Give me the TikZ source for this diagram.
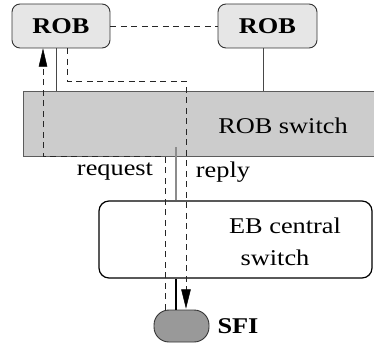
\documentclass[tikz,border=0pt]{standalone}
\usepackage{fontspec}
\setmainfont[FakeStretch=1.17]{Liberation Serif}
\definecolor{robfill}{HTML}{E6E6E6}
\definecolor{swfill}{HTML}{CCCCCC}
\definecolor{sfifill}{HTML}{999999}
\definecolor{edge}{HTML}{333333}
\tikzset{
  txt/.style={font=\fontsize{22.5}{26}\selectfont, inner sep=0pt},
  robbox/.style={draw=edge, line width=0.9pt, fill=robfill, rounded corners=8pt,
    minimum width=98pt, minimum height=44pt, inner sep=0pt,
    font=\fontsize{22.5}{26}\selectfont\bfseries},
  swbox/.style={draw=edge!80, line width=0.9pt, fill=swfill, minimum width=352pt,
    minimum height=65pt, inner sep=0pt},
  ebbox/.style={draw=black, line width=1.2pt, fill=white, rounded corners=10pt,
    minimum width=273pt, minimum height=77pt, inner sep=0pt},
  sfibox/.style={draw=edge, line width=0.9pt, fill=sfifill, rounded corners=15pt,
    minimum width=55pt, minimum height=32pt, inner sep=0pt},
  link/.style={draw=edge!90, line width=1pt},
  dpath/.style={draw=black!85, line width=0.9pt, dash pattern=on 6pt off 4.5pt},
  head/.style={fill=black, draw=black, line width=0.5pt, line join=miter},
}
\begin{document}
\begin{tikzpicture}[x=1pt,y=-1pt]
\useasboundingbox (0,0) rectangle (374,345);

% boxes
\node[robbox] (rob1) at (61,26) {ROB};
\node[robbox, minimum width=99pt] (rob2) at (267.5,26) {ROB};
\node[swbox] (sw) at (199,123.5) {};
\node[txt] (swl) at (283,126) {ROB switch};
\node[ebbox] (eb) at (235.5,239.5) {};
\node[txt] (ebl1) at (285,226) {EB central};
\node[txt] (ebl2) at (275,258) {switch};
\node[sfibox] (sfi) at (181.5,326) {};
\node[txt, font=\fontsize{22.5}{26}\selectfont\bfseries] (sfil) at (238,326) {SFI};
\node[txt] (req) at (115,172) {request};
\node[txt] (rep) at (223,172) {reply};

% physical links
\draw[dpath] (rob1) -- (rob2);
\draw[link] ([xshift=-5pt]rob1.south) -- ([xshift=-5pt]rob1.south |- sw.north);
\draw[link] ([xshift=-4.5pt]rob2.south) -- ([xshift=-4.5pt]rob2.south |- sw.north);
\coordinate (g) at (176,147);
\draw[draw=black!45, line width=1.2pt] (g) -- (g |- eb.north);
\draw[draw=black, line width=1.4pt] (g |- eb.south) -- (g |- sfi.north);

% request path: SFI -> ROB, solid head at the ROB
\coordinate (rq) at (165,156);
\coordinate (ra) at (43,156);
\coordinate (rahead) at ([yshift=-1pt]ra |- rob1.south);
\draw[dpath] (rq |- sfi.north) -- (rq) -- (ra) -- ([yshift=-16pt]rahead);
\fill[head] (rahead) -- ++(-4,17) -- ++(8,0) -- cycle;

% reply path: ROB -> SFI, solid head at the SFI
\coordinate (rj) at (186,81);
\coordinate (rjhead) at ([yshift=2pt]rj |- sfi.north);
\draw[dpath] ([xshift=6pt]rob1.south) |- (rj) -- ([yshift=17pt]rjhead);
\fill[head] (rjhead) -- ++(-4.5,-18) -- ++(9,0) -- cycle;
\end{tikzpicture}
\end{document}
